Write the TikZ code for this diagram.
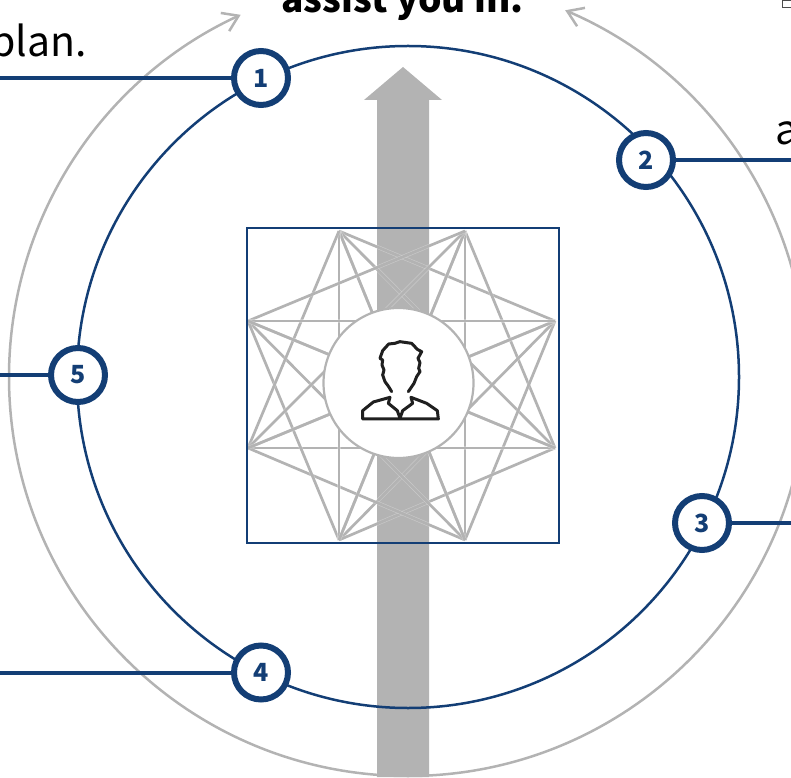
\documentclass[tikz,border=0pt]{standalone}
\usepackage{fontspec}
\setmainfont{Noto Sans CJK SC}
\usetikzlibrary{arrows.meta, positioning}
\definecolor{ringblue}{RGB}{19,62,117}
\definecolor{softgray}{RGB}{179,179,179}
\tikzset{
  marker/.style={circle, draw=ringblue, line width=6pt, fill=white, minimum size=54pt,
    inner sep=0pt, text=ringblue, font=\fontsize{25}{25}\selectfont\bfseries},
  leader/.style={ringblue, line width=4pt},
  ring/.style={circle, draw=ringblue, line width=2.5pt, minimum size=662pt, inner sep=0pt},
  loop arc/.style={softgray, line width=2.5pt, -{Straight Barb[length=15pt, width=20pt, line width=2.5pt]}},
  spoke/.style={softgray, line width=2.7pt, preaction={draw=white, opacity=0.3, line width=3.9pt}},
  hub/.style={circle, draw=softgray, line width=2.2pt, fill=white, minimum size=150pt, inner sep=0pt},
  frame/.style={rectangle, draw=ringblue, line width=1.6pt, minimum width=312pt, minimum height=315pt, inner sep=0pt},
  bigtext/.style={inner sep=0pt, anchor=base west, font=\fontsize{41}{41}\selectfont},
  figure line/.style={black!88, line width=3pt, line join=round, line cap=round},
}
\begin{document}
\begin{tikzpicture}[x=1pt, y=1pt]
  \useasboundingbox (0,0) rectangle (791,777);

  % rising bar
  \fill[softgray] (377,0) -- (377,677) -- (364,677) -- (403,710) -- (442,677) -- (429,677) -- (429,0) -- cycle;

  % outer loop
  \coordinate (loopstart) at (408,1);
  \draw[loop arc] (loopstart) arc[start angle=270, end angle=114.8, radius=399];
  \draw[loop arc] (loopstart) arc[start angle=-90, end angle=66.8, radius=399];

  % star
  \coordinate (p0) at (339,546);
  \coordinate (p1) at (465,546);
  \coordinate (p2) at (555,456);
  \coordinate (p3) at (555,329);
  \coordinate (p4) at (465,237);
  \coordinate (p5) at (339,237);
  \coordinate (p6) at (248,329);
  \coordinate (p7) at (248,456);
  \foreach \a in {0,...,7}
    \foreach \b in {2,3,4} {
      \pgfmathtruncatemacro{\c}{mod(\a+\b,8)}
      \draw[spoke] (p\a) -- (p\c);
    }
  \node[hub] (hub) at (398.5,394) {};
  \node[frame] (frame) at (403,391.5) {};

  % person
  \begin{scope}[shift={(340,457)}, x=0.3333pt, y=-0.3333pt]
    \draw[figure line] (155,215) -- (146,200) -- (135,185) -- (128,165) -- (132,150) -- (126,135) -- (128,120) -- (120,115)
      -- (128,92) -- (146,72) -- (165,70) -- (180,65) -- (215,70) -- (232,88) -- (245,95) -- (234,115) -- (240,128)
      -- (236,145) -- (240,155) -- (230,170) -- (222,190) -- (205,215);
    \draw[figure line] (150,232) -- (100,246) -- (68,272) -- (68,297) -- (295,297) -- (292,272) -- (260,250) -- (213,232);
    \draw[figure line] (150,232) -- (145,250) -- (172,272) -- (180,295) -- (188,272) -- (218,250) -- (213,232);
  \end{scope}

  \node[ring] (ring) at (408,400) {};

  % numbered points
  \node[marker] (m1) at (261,699) {1};
  \node[marker] (m2) at (646,617) {2};
  \node[marker] (m3) at (702,254) {3};
  \node[marker] (m4) at (261,104.5) {4};
  \node[marker] (m5) at (78,402) {5};
  \coordinate (e1) at (0,699);
  \coordinate (e2) at (791,617);
  \coordinate (e3) at (791,254);
  \coordinate (e4) at (0,104.5);
  \coordinate (e5) at (0,402);
  \draw[leader] (m1) -- (e1);
  \draw[leader] (m2) -- (e2);
  \draw[leader] (m3) -- (e3);
  \draw[leader] (m4) -- (e4);
  \draw[leader] (m5) -- (e5);

  % text cut by the page
  \node[bigtext, font=\fontsize{37}{37}\selectfont\bfseries] (head) at (281,764.5) {assist you in.};
  \node[bigtext] (plan) at (-10,720) {plan.};
  \node[bigtext] (cuta) at (775,632) {a};
  \draw[black!70, line width=1pt] (791,776) -- (782.5,776) -- (782.5,769) -- (791,769);
\end{tikzpicture}
\end{document}
